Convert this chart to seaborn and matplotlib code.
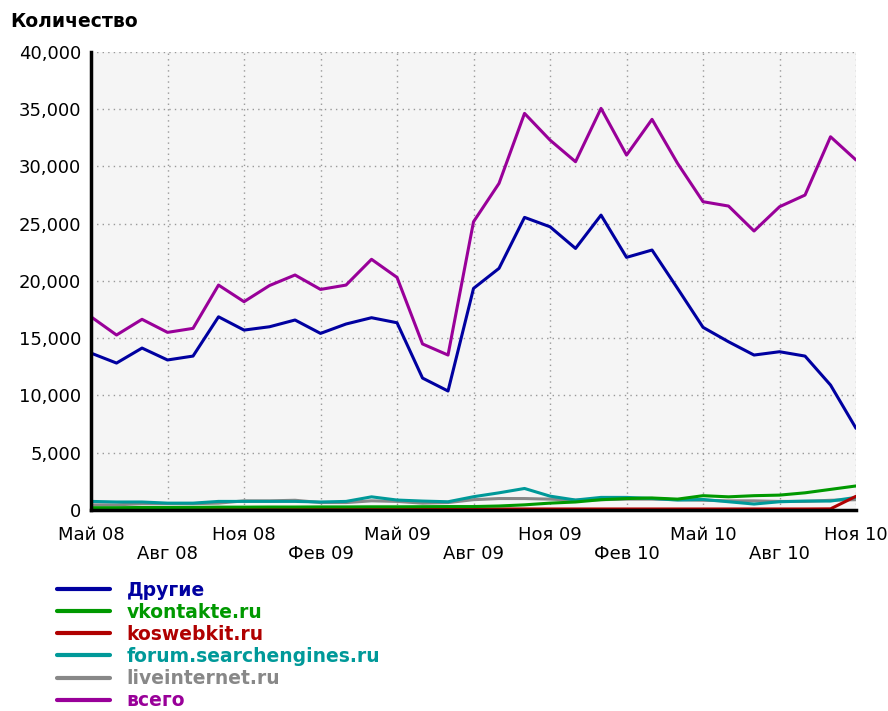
import numpy as np
import pandas as pd
import matplotlib
matplotlib.use("Agg")
import matplotlib.pyplot as plt
import matplotlib.ticker as mticker
from matplotlib.lines import Line2D
import seaborn as sns

# monthly data, May 2008 .. Nov 2010 (31 months)
months = list(range(31))
tick_labels = ["Май 08", "Авг 08", "Ноя 08", "Фев 09", "Май 09", "Авг 09",
               "Ноя 09", "Фев 10", "Май 10", "Авг 10", "Ноя 10"]

drugie = [13700, 12830, 14140, 13100, 13440, 16870, 15710, 16000, 16590, 15420,
          16240, 16790, 16350, 11520, 10390, 19350, 21100, 25550, 24730, 22840,
          25750, 22060, 22700, 19350, 15950, 14690, 13530, 13820, 13440, 10910, 7130]
vkontakte = [200, 200, 220, 220, 230, 250, 250, 260, 260, 270,
             270, 280, 280, 290, 300, 300, 350, 450, 600, 700,
             900, 1000, 1050, 950, 1250, 1150, 1250, 1300, 1500, 1800, 2100]
koswebkit = [0, 0, 80, 80, 80, 80, 80, 80, 80, 80,
             80, 80, 80, 80, 80, 80, 90, 90, 90, 90,
             90, 90, 90, 90, 90, 90, 90, 90, 90, 100, 1200]
forum = [750, 700, 700, 600, 600, 750, 750, 750, 750, 700,
         750, 1150, 870, 780, 720, 1160, 1500, 1880, 1210, 870,
         1100, 1100, 1010, 870, 920, 720, 520, 720, 780, 780, 1100]
liveinternet = [450, 450, 550, 550, 550, 600, 800, 800, 850, 650,
                650, 800, 750, 600, 650, 900, 1000, 1000, 950, 850,
                900, 950, 950, 900, 850, 800, 800, 750, 750, 850, 900]
vsego = [16870, 15280, 16650, 15510, 15860, 19640, 18190, 19600, 20520, 19260,
         19640, 21890, 20310, 14500, 13530, 25170, 28520, 34630, 32300, 30410,
         35070, 30990, 34110, 30270, 26920, 26540, 24360, 26480, 27500, 32590, 30560]

series_names = ["Другие", "vkontakte.ru", "koswebkit.ru",
                "forum.searchengines.ru", "liveinternet.ru", "всего"]
series_values = [drugie, vkontakte, koswebkit, forum, liveinternet, vsego]
colors = ["#0000A0", "#009900", "#B00000", "#009999", "#888888", "#990099"]

df = pd.DataFrame({
    "month": np.tile(months, len(series_names)),
    "value": np.concatenate(series_values),
    "series": np.repeat(series_names, len(months)),
})
df.loc[(df["series"] == "koswebkit.ru") & (df["month"] < 2), "value"] = np.nan

sns.set_style("white")
plt.rcParams["font.family"] = ["DejaVu Sans"]
plt.rcParams["text.color"] = "black"
plt.rcParams["xtick.color"] = "black"
plt.rcParams["ytick.color"] = "black"

fig = plt.figure(figsize=(8.88, 7.11), dpi=100)
ax = fig.add_axes([0.1025, 0.2827, 0.8615, 0.6443])
ax.set_facecolor("#F5F5F5")

# draw small series first, then the big ones on top
draw_order = ["liveinternet.ru", "forum.searchengines.ru", "koswebkit.ru",
              "vkontakte.ru", "Другие", "всего"]
palette = dict(zip(series_names, colors))
sns.lineplot(data=df, x="month", y="value", hue="series", hue_order=draw_order,
             palette=palette, linewidth=2.2, legend=False, ax=ax)

ax.set_xlim(0, 30)
ax.set_ylim(0, 40000)
ax.set_xticks(range(0, 31, 3))
ax.set_xticklabels([t if i % 2 == 0 else "\n" + t for i, t in enumerate(tick_labels)],
                   linespacing=1.1)
ax.set_yticks(range(0, 40001, 5000))
ax.yaxis.set_major_formatter(mticker.FuncFormatter(lambda v, p: f"{v:,.0f}"))
ax.tick_params(axis="both", labelsize=13, direction="out", length=5, width=1.5,
               color="black", labelcolor="black")
ax.tick_params(axis="y", pad=2)
ax.tick_params(axis="x", pad=6.5)
ax.grid(True, color="#999999", linestyle=(0, (1, 3)), linewidth=1)
ax.set_xlabel("")
ax.set_ylabel("")

for side in ["top", "right"]:
    ax.spines[side].set_visible(False)
for side in ["left", "bottom"]:
    ax.spines[side].set_color("black")
    ax.spines[side].set_linewidth(2.5)

fig.text(0.011, 0.970, "Количество", fontsize=13.5, fontweight="bold",
         va="center", color="black")

handles = [Line2D([0], [0], color=c, linewidth=3) for c in colors]
leg = fig.legend(handles, series_names, loc="upper left", bbox_to_anchor=(0.064, 0.183),
                 frameon=False, fontsize=13.5, handlelength=2.83, handletextpad=0.9,
                 labelspacing=0.163, borderpad=0, borderaxespad=0)
for text, c in zip(leg.get_texts(), colors):
    text.set_color(c)
    text.set_fontweight("bold")

fig.savefig("out.png", dpi=100)
